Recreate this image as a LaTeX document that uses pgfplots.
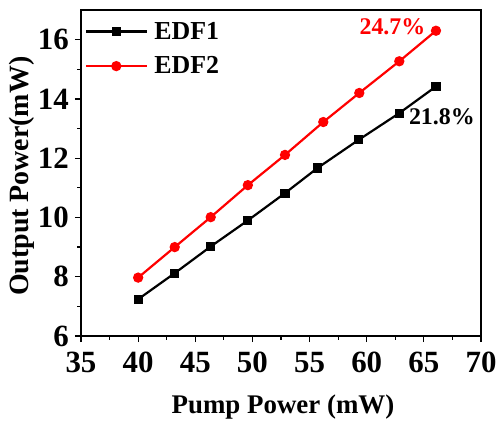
\documentclass[border=0pt]{standalone}
\usepackage{fontspec}
\setmainfont{Liberation Serif}
\usepackage{pgfplots}
\pgfplotsset{compat=1.18}
\begin{document}
\begin{tikzpicture}
\begin{axis}[
  scale only axis, width=400bp, height=326bp,
  xmin=35, xmax=70, ymin=6, ymax=17,
  xtick={35,40,...,70}, ytick={6,8,...,16},
  minor x tick num=1, minor y tick num=1,
  xtick pos=lower, ytick pos=left,
  tick align=outside, major tick length=6bp, minor tick length=3.5bp,
  every tick/.style={line width=1.2bp, black},
  axis line style={line width=1.5bp},
  /pgf/number format/assume math mode=true,
  ticklabel style={font=\fontsize{31}{31}\selectfont\bfseries},
  xticklabel style={inner sep=2bp, yshift=-8bp},
  yticklabel style={inner sep=2bp, xshift=-4bp},
  xlabel={Pump Power (mW)}, ylabel={Output Power(mW)},
  xlabel style={font=\fontsize{27}{27}\selectfont\bfseries, at={(axis description cs:0.505,-0.239)}, anchor=base},
  ylabel style={font=\fontsize{28}{28}\selectfont\bfseries, at={(axis description cs:-0.1475,0.49)}, anchor=center, rotate=0},
  legend style={at={(0,1)}, anchor=north west, draw=none, fill=none,
    font=\fontsize{26}{26}\selectfont\bfseries, inner xsep=4bp, inner ysep=10bp,
    row sep=12bp, column sep=4bp, nodes={inner sep=2bp}},
  legend cell align=left,
  legend image code/.code={\draw[mark repeat=2,mark phase=2,#1] plot coordinates {(0bp,0bp) (30bp,0bp) (61bp,0bp)};},
]
\addplot[black, line width=2.2bp, mark=square*, mark size=3.5bp, mark options={solid}] coordinates {
(40,7.24) (43.2,8.12) (46.35,9.02) (49.6,9.9) (52.85,10.82) (55.7,11.67) (59.3,12.62) (62.85,13.52) (66.06,14.42)};
\addlegendentry{EDF1}
\addplot[red, line width=2.2bp, mark=*, mark size=4bp, mark options={solid}] coordinates {
(40,7.97) (43.2,9.0) (46.35,10.01) (49.6,11.09) (52.85,12.11) (56.2,13.22) (59.35,14.2) (62.85,15.27) (66.06,16.3)};
\addlegendentry{EDF2}
\node[red, font=\fontsize{24}{24}\selectfont\bfseries] at (axis cs:62.25,16.44) {24.7\%};
\node[black, font=\fontsize{24}{24}\selectfont\bfseries] at (axis cs:66.58,13.4) {21.8\%};
\end{axis}
\pgfresetboundingbox
\path (-81bp,-93bp) rectangle (423bp,336bp);
\end{tikzpicture}
\end{document}
